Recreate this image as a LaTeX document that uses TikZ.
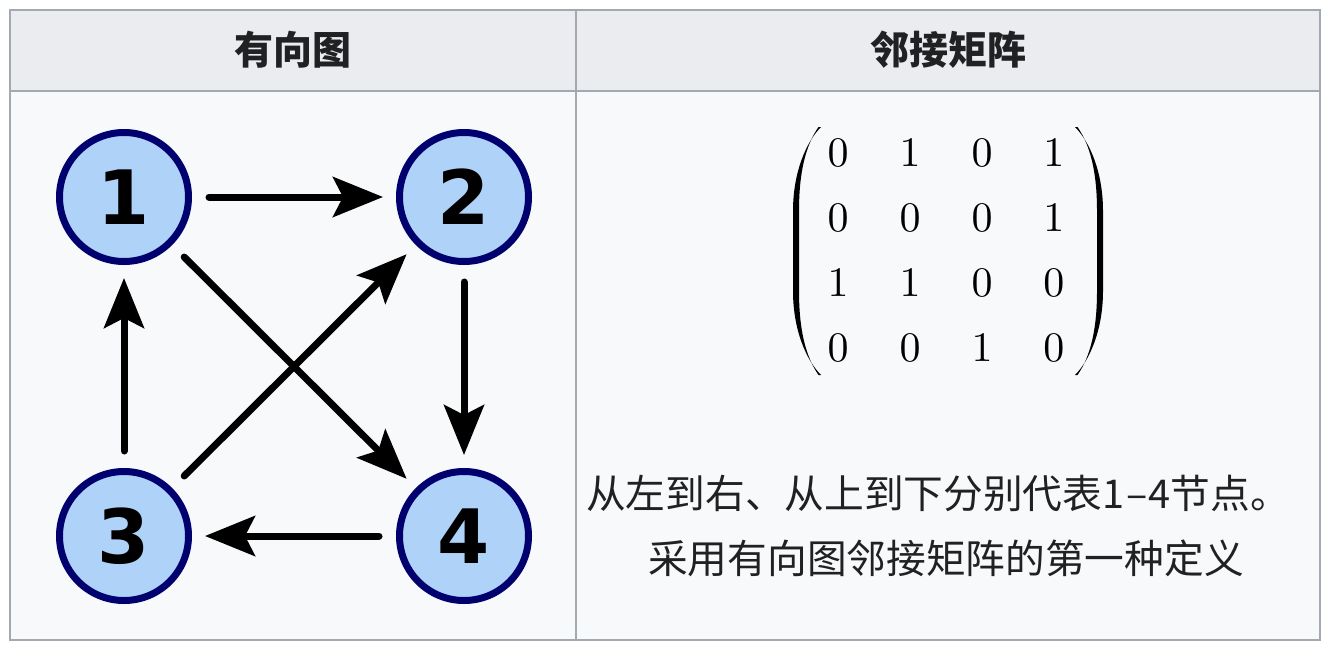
\documentclass[tikz,border=0pt]{standalone}
\usepackage{amsmath}
\usepackage{fontspec}
\newfontfamily\cjkfont{Noto Sans CJK SC}
\newfontfamily\numfont{DejaVu Sans}
\usepackage{tikz}
\usetikzlibrary{positioning, calc, arrows.meta}
\definecolor{tblline}{HTML}{A2A9B1}
\definecolor{tblhead}{HTML}{EAECF0}
\definecolor{tblbody}{HTML}{F8F9FA}
\definecolor{vfill}{HTML}{AFD3F8}
\definecolor{vline}{HTML}{00006E}
\definecolor{txt}{HTML}{202122}

\begin{document}
\begin{tikzpicture}[x=1pt,y=-1pt,
		vert/.style={circle,draw=vline,fill=vfill,line width=7pt,minimum size=129pt,inner sep=0pt,
			font=\numfont\bfseries\fontsize{75}{75}\selectfont},
		edge/.style={line width=7pt,line cap=round,-{Stealth[length=50pt,width=40pt,inset=10pt]},
			shorten <=17pt,shorten >=13pt},
		cell/.style={font=\cjkfont\fontsize{39.7}{39.7}\selectfont,text=txt,inner sep=0pt},
		paren/.style={fill=black}]
	\useasboundingbox (0,0) rectangle (1330,654);
	% table
	\fill[tblbody] (10,10) rectangle (1320,640);
	\fill[tblhead] (10,10) rectangle (1320,91);
	\draw[tblline,line width=2pt] (10,10) rectangle (1320,640);
	\draw[tblline,line width=2pt] (10,91) -- (1320,91);
	\draw[tblline,line width=2pt] (576,10) -- (576,640);
	\node[cell,font=\cjkfont\bfseries\fontsize{39}{39}\selectfont] (h1) at (293,50) {有向图};
	\node[cell,font=\cjkfont\bfseries\fontsize{39}{39}\selectfont] (h2) at (948,50) {邻接矩阵};
	% graph
	\node[vert] (n1) at (124,197) {1};
	\node[vert] (n2) at (464,197) {2};
	\node[vert] (n3) at (124,536) {3};
	\node[vert] (n4) at (464,536) {4};
	\draw[edge] (n1) -- (n2);
	\draw[edge] (n2) -- (n4);
	\draw[edge] (n4) -- (n3);
	\draw[edge] (n3) -- (n1);
	\draw[edge] (n1) -- (n4);
	\draw[edge] (n3) -- (n2);
	% matrix
	\node[inner sep=0pt,scale=4.2] (adj) at (946,251) {\fontsize{10}{15.5}\selectfont\setlength{\arraycolsep}{6.07pt}%
		$\begin{matrix}
			0 & 1 & 0 & 1\\
			0 & 0 & 0 & 1\\
			1 & 1 & 0 & 0\\
			0 & 0 & 1 & 0
		\end{matrix}$};
	\begin{scope}[shift={(948,251)}]
		\fill[paren] (-127,-124) .. controls (-141,-110) and (-155,-80) .. (-155,-40) -- (-155,40)
			.. controls (-155,80) and (-141,110) .. (-127,124) -- (-129.5,124)
			.. controls (-142,106) and (-149,80) .. (-149,40) -- (-149,-40)
			.. controls (-149,-80) and (-142,-106) .. (-129.5,-124) -- cycle;
		\fill[paren,xscale=-1] (-127,-124) .. controls (-141,-110) and (-155,-80) .. (-155,-40) -- (-155,40)
			.. controls (-155,80) and (-141,110) .. (-127,124) -- (-129.5,124)
			.. controls (-142,106) and (-149,80) .. (-149,40) -- (-149,-40)
			.. controls (-149,-80) and (-142,-106) .. (-129.5,-124) -- cycle;
	\end{scope}
	\node[cell] (t1) at (938,493) {从左到右、从上到下分别代表1\kern2pt–\kern1pt4节点。};
	\node[cell] (t2) at (946,558) {采用有向图邻接矩阵的第一种定义};
\end{tikzpicture}
\end{document}
